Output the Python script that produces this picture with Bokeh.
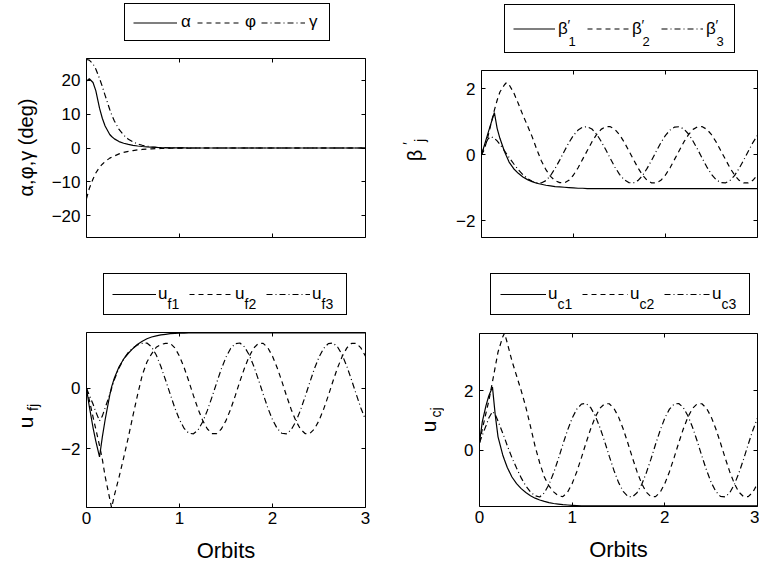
import math
from bokeh.plotting import figure
from bokeh.layouts import column, row
from bokeh.models import Label, Legend, LegendItem, LinearAxis, FixedTicker, Range1d
from bokeh.embed import file_html
from bokeh.resources import INLINE

# ---------------- data ----------------
t = [0, 0.03, 0.07, 0.1, 0.14, 0.17, 0.2, 0.25, 0.27, 0.3,
     0.35, 0.4, 0.45, 0.5, 0.55, 0.6, 0.65, 0.7, 0.75, 0.8, 0.85,
     0.9, 0.95, 1.0, 1.05, 1.1, 1.15, 1.2, 1.25, 1.3, 1.35, 1.4, 1.45, 1.5, 1.55, 1.6, 1.65, 1.7, 1.75, 1.8, 1.85,
     1.9, 1.95, 2.0, 2.05, 2.1, 2.15, 2.2, 2.25, 2.3, 2.35, 2.4, 2.45, 2.5, 2.55, 2.6, 2.65, 2.7, 2.75, 2.8, 2.85,
     2.9, 2.95, 3.0]

alpha = [19.8, 20.5, 19.4, 17.0, 11.8, 8.8, 6.5, 4.0, 3.4, 2.7,
         1.9, 1.4, 1.05, 0.8, 0.6, 0.45, 0.33, 0.24, 0.17, 0.12, 0.08,
         0.05, 0.03, 0.02, 0.01, 0, 0, 0, 0, 0, 0, 0, 0, 0, 0, 0, 0, 0, 0, 0, 0,
         0, 0, 0, 0, 0, 0, 0, 0, 0, 0, 0, 0, 0, 0, 0, 0, 0, 0, 0, 0,
         0, 0, 0]
phi = [-15.0, -12.0, -9.2, -7.4, -5.7, -4.8, -4.0, -3.0, -2.7, -2.35,
       -1.75, -1.3, -1.0, -0.75, -0.57, -0.43, -0.33, -0.25, -0.19, -0.14, -0.1,
       -0.07, -0.05, -0.04, -0.03, -0.02, -0.01, 0, 0, 0, 0, 0, 0, 0, 0, 0, 0, 0, 0, 0, 0,
       0, 0, 0, 0, 0, 0, 0, 0, 0, 0, 0, 0, 0, 0, 0, 0, 0, 0, 0, 0,
       0, 0, 0]
gamma = [26.2, 26.0, 24.9, 23.4, 20.6, 18.2, 15.6, 11.4, 9.9, 8.0,
         5.5, 3.8, 2.6, 1.8, 1.2, 0.8, 0.52, 0.34, 0.22, 0.14, 0.09,
         0.06, 0.04, 0.02, 0.01, 0, 0, 0, 0, 0, 0, 0, 0, 0, 0, 0, 0, 0, 0, 0, 0,
         0, 0, 0, 0, 0, 0, 0, 0, 0, 0, 0, 0, 0, 0, 0, 0, 0, 0, 0, 0,
         0, 0, 0]

beta1 = [0, 0.28, 0.65, 0.92, 1.28, 0.8, 0.5, 0.1, -0.03, -0.22,
         -0.42, -0.56, -0.67, -0.75, -0.81, -0.86, -0.89, -0.92, -0.94, -0.96, -0.97,
         -0.98, -0.99, -1.0, -1.01, -1.01, -1.02, -1.02, -1.02, -1.02, -1.02, -1.02, -1.02, -1.02, -1.02, -1.02,
         -1.02, -1.02, -1.02, -1.02, -1.02,
         -1.02, -1.02, -1.02, -1.02, -1.02, -1.02, -1.02, -1.02, -1.02, -1.02, -1.02, -1.02, -1.02, -1.02,
         -1.02, -1.02, -1.02, -1.02, -1.02, -1.02,
         -1.02, -1.02, -1.02]
beta2 = [0, 0.15, 0.55, 0.9, 1.35, 1.65, 1.9, 2.12, 2.18, 2.12,
         1.88, 1.55, 1.2, 0.88, 0.55, 0.17, -0.18, -0.45, -0.65, -0.78, -0.84,
         -0.85, -0.77, -0.61, -0.39, -0.13, 0.13, 0.39, 0.61, 0.77, 0.85, 0.85, 0.77, 0.61, 0.39, 0.13,
         -0.13, -0.39, -0.61, -0.77, -0.85,
         -0.85, -0.77, -0.61, -0.39, -0.13, 0.13, 0.39, 0.61, 0.77, 0.85, 0.85, 0.77, 0.61, 0.39, 0.13,
         -0.13, -0.39, -0.61, -0.77, -0.85,
         -0.85, -0.77, -0.61]
beta3 = [0, 0.25, 0.48, 0.55, 0.5, 0.42, 0.32, 0.12, 0.04, -0.08,
         -0.27, -0.45, -0.6, -0.72, -0.8, -0.84, -0.85, -0.78, -0.63, -0.41, -0.16,
         0.11, 0.37, 0.59, 0.75, 0.84, 0.85, 0.78, 0.63, 0.41, 0.16, -0.11, -0.37, -0.59, -0.75, -0.84,
         -0.85, -0.78, -0.63, -0.41, -0.16,
         0.11, 0.37, 0.59, 0.75, 0.84, 0.85, 0.78, 0.63, 0.41, 0.16, -0.11, -0.37, -0.59, -0.75, -0.84,
         -0.85, -0.78, -0.63, -0.41, -0.16,
         0.11, 0.37, 0.59]

uf1 = [0, -0.6, -1.3, -1.75, -2.28, -1.62, -1.05, -0.22, 0.05, 0.35,
       0.72, 0.98, 1.17, 1.33, 1.47, 1.57, 1.65, 1.71, 1.75, 1.78, 1.8,
       1.82, 1.83, 1.84, 1.84, 1.85, 1.85, 1.85, 1.85, 1.85, 1.85, 1.85, 1.85, 1.85, 1.85, 1.85,
       1.85, 1.85, 1.85, 1.85, 1.85,
       1.85, 1.85, 1.85, 1.85, 1.85, 1.85, 1.85, 1.85, 1.85, 1.85, 1.85, 1.85, 1.85, 1.85, 1.85,
       1.85, 1.85, 1.85, 1.85, 1.85,
       1.85, 1.85, 1.85]
uf2 = [0, -0.38, -0.95, -1.35, -1.9, -2.35, -2.92, -3.67, -3.97, -3.55,
       -2.95, -2.3, -1.62, -0.9, -0.2, 0.45, 0.88, 1.15, 1.37, 1.46, 1.5,
       1.5, 1.35, 1.07, 0.69, 0.24, -0.24, -0.69, -1.07, -1.35, -1.5, -1.5, -1.35, -1.07, -0.69, -0.24,
       0.24, 0.69, 1.07, 1.35, 1.5,
       1.5, 1.35, 1.07, 0.69, 0.24, -0.24, -0.69, -1.07, -1.35, -1.5, -1.5, -1.35, -1.07, -0.69, -0.24,
       0.24, 0.69, 1.07, 1.35, 1.5,
       1.5, 1.35, 1.07]
uf3 = [0, -0.22, -0.52, -0.78, -1.08, -0.92, -0.65, -0.2, 0.0, 0.3,
       0.68, 0.98, 1.2, 1.35, 1.45, 1.5, 1.51, 1.38, 1.11, 0.73, 0.28,
       -0.19, -0.65, -1.04, -1.33, -1.49, -1.51, -1.38, -1.11, -0.73, -0.28, 0.19, 0.65, 1.04, 1.33, 1.49,
       1.51, 1.38, 1.11, 0.73, 0.28,
       -0.19, -0.65, -1.04, -1.33, -1.49, -1.51, -1.38, -1.11, -0.73, -0.28, 0.19, 0.65, 1.04, 1.33, 1.49,
       1.51, 1.38, 1.11, 0.73, 0.28,
       -0.19, -0.65, -1.04]

uc1 = [0.25, 0.95, 1.5, 1.82, 2.12, 1.18, 0.45, -0.15, -0.33, -0.58,
       -0.9, -1.12, -1.29, -1.42, -1.53, -1.61, -1.67, -1.72, -1.76, -1.79, -1.81,
       -1.83, -1.84, -1.85, -1.86, -1.87, -1.87, -1.87, -1.87, -1.87, -1.87, -1.87, -1.87, -1.87, -1.87, -1.87,
       -1.87, -1.87, -1.87, -1.87, -1.87,
       -1.87, -1.87, -1.87, -1.87, -1.87, -1.87, -1.87, -1.87, -1.87, -1.87, -1.87, -1.87, -1.87, -1.87, -1.87,
       -1.87, -1.87, -1.87, -1.87, -1.87,
       -1.87, -1.87, -1.87]
uc2 = [0.25, 0.7, 1.25, 1.65, 2.3, 2.8, 3.3, 3.8, 3.93, 3.6,
       3.0, 2.5, 2.0, 1.45, 0.8, 0.13, -0.43, -0.9, -1.2, -1.4, -1.53,
       -1.56, -1.41, -1.12, -0.72, -0.25, 0.25, 0.72, 1.12, 1.41, 1.56, 1.56, 1.41, 1.12, 0.72, 0.25,
       -0.25, -0.72, -1.12, -1.41, -1.56,
       -1.56, -1.41, -1.12, -0.72, -0.25, 0.25, 0.72, 1.12, 1.41, 1.56, 1.56, 1.41, 1.12, 0.72, 0.25,
       -0.25, -0.72, -1.12, -1.41, -1.56,
       -1.56, -1.41, -1.12]
uc3 = [0.25, 0.5, 0.82, 1.08, 1.3, 1.2, 0.98, 0.58, 0.42, 0.15,
       -0.25, -0.6, -0.93, -1.2, -1.4, -1.53, -1.57, -1.43, -1.15, -0.76, -0.3,
       0.2, 0.67, 1.08, 1.38, 1.55, 1.57, 1.43, 1.15, 0.76, 0.3, -0.2, -0.67, -1.08, -1.38, -1.55,
       -1.57, -1.43, -1.15, -0.76, -0.3,
       0.2, 0.67, 1.08, 1.38, 1.55, 1.57, 1.43, 1.15, 0.76, 0.3, -0.2, -0.67, -1.08, -1.38, -1.55,
       -1.57, -1.43, -1.15, -0.76, -0.3,
       0.2, 0.67, 1.08]

x_ticks = [0, 1, 2, 3]
tl_yticks = [-20, -10, 0, 10, 20]
tr_yticks = [-2, 0, 2]
bl_yticks = [-2, 0]
br_yticks = [0, 2]

# ---------------- style ----------------
FONT = "Liberation Sans"
TICK_FS = "17px"
LAB_FS = "22px"
LEG_FS = "17px"
DASH = "5 4"
DASHDOT = "6 3 1 3"
LW = 1.2


def minus(ticks):
    return {v: ("\u2212" + str(abs(v))) for v in ticks if v < 0}


def style_axis(ax, ticks, labels=True):
    ax.ticker = FixedTicker(ticks=ticks, minor_ticks=[])
    ax.major_tick_in = 4
    ax.major_tick_out = 0
    ax.minor_tick_line_color = None
    ax.major_tick_line_color = "black"
    ax.axis_line_color = None
    ax.major_label_text_font = FONT
    ax.major_label_text_color = "black"
    if labels:
        ax.major_label_text_font_size = TICK_FS
        ax.major_label_overrides = minus(ticks)
    else:
        ax.major_label_text_font_size = "0px"
        ax.major_label_overrides = {v: "" for v in ticks}
        ax.major_label_standoff = 0


def panel(w, h, bl, br, bt, bb, ylim, yticks, xlabels):
    p = figure(width=w, height=h, output_backend="svg", toolbar_location=None, tools="",
               x_range=Range1d(0, 3), y_range=Range1d(ylim[0], ylim[1]),
               min_border_left=bl, min_border_right=br, min_border_top=bt, min_border_bottom=bb)
    p.grid.visible = False
    p.outline_line_color = "black"
    p.outline_line_width = 1
    p.outline_line_alpha = 1
    bx = p.xaxis[0]
    ly = p.yaxis[0]
    style_axis(bx, x_ticks, labels=xlabels)
    bx.major_label_standoff = 4 if xlabels else 0
    style_axis(ly, yticks)
    ly.major_label_standoff = 6
    if xlabels:
        bx.axis_label = "Orbits"
        bx.axis_label_text_font = FONT
        bx.axis_label_text_font_size = LAB_FS
        bx.axis_label_text_font_style = "normal"
        bx.axis_label_text_color = "black"
        bx.axis_label_standoff = 11
    ra = LinearAxis()
    style_axis(ra, yticks, labels=False)
    p.add_layout(ra, "right")
    ta = LinearAxis()
    style_axis(ta, x_ticks, labels=False)
    p.add_layout(ta, "above")
    return p


def blank(w, h, xr=(0, 1)):
    f = figure(width=w, height=h, output_backend="svg", toolbar_location=None, tools="",
               x_range=Range1d(xr[0], xr[1]), y_range=Range1d(0, 1),
               x_axis_type=None, y_axis_type=None,
               min_border_left=0, min_border_right=0, min_border_top=0, min_border_bottom=0)
    f.grid.visible = False
    f.outline_line_color = None
    return f


def add_lines(p, ys):
    r1 = p.line(t, ys[0], line_color="black", line_width=LW)
    r2 = p.line(t, ys[1], line_color="black", line_width=LW, line_dash=DASH)
    r3 = p.line(t, ys[2], line_color="black", line_width=LW, line_dash=DASHDOT)
    return [r1, r2, r3]


def legend_fig(w, h, ys, labels, loc, pad, gw, gh, ls, lw, sp):
    # legend keys: the same series, drawn outside this strip's visible x-range
    f = blank(w, h, xr=(10, 11))
    keys = add_lines(f, ys)
    items = [LegendItem(label=lab, renderers=[r]) for lab, r in zip(labels, keys)]
    leg = Legend(items=items, orientation="horizontal", location=loc,
                 padding=pad, spacing=sp, glyph_width=gw, glyph_height=gh,
                 label_standoff=ls, label_width=lw, label_height=gh, margin=0,
                 label_text_font=FONT, label_text_font_size=LEG_FS, label_text_color="black",
                 border_line_color="black", border_line_width=1, border_line_alpha=1,
                 background_fill_alpha=0)
    f.add_layout(leg)
    return f


def txt(p, x, y, s, fs, angle=0.0, align="left"):
    p.add_layout(Label(x=x, y=y, x_units="screen", y_units="screen", text=s, angle=angle,
                       text_font=FONT, text_font_size=fs, text_color="black",
                       text_align=align, text_baseline="middle"))


# ---------------- top-left ----------------
leg1 = legend_fig(400, 50, [alpha, phi, gamma], ["\u03b1", "\u03c6", "\u03b3"], (124, 9), 8, 44, 19, 4, 12, 4)
yl1 = blank(45, 220)
txt(yl1, 25, 90, "\u03b1,\u03c6,\u03b3 (deg)", "20px", math.pi / 2, "center")
p1 = panel(355, 220, 41, 35, 8, 33, (-26.5, 26.5), tl_yticks, False)
add_lines(p1, [alpha, phi, gamma])

# ---------------- top-right ----------------
leg2 = legend_fig(359, 62, [beta1, beta2, beta3], ["\u03b2", "\u03b2", "\u03b2"], (104, 9), 8, 42, 31, 3, 20, 9)
for lx, sub in ((157, "1"), (231, "2"), (305, "3")):
    txt(leg2, lx + 10, 38, "\u2032", "14px")
    txt(leg2, lx + 11, 21, sub, "13px")
yl2 = blank(44, 208)
txt(yl2, 14, 82, "\u03b2", "20px", math.pi / 2, "center")
txt(yl2, 7, 94, "\u2032", "14px", math.pi / 2, "center")
txt(yl2, 19, 97, "j", "14px", math.pi / 2, "center")
p2 = panel(315, 208, 37, 2, 8, 33, (-2.5, 2.55), tr_yticks, False)
add_lines(p2, [beta1, beta2, beta3])

# ---------------- bottom-left ----------------
leg3 = legend_fig(400, 54, [uf1, uf2, uf3], ["u", "u", "u"], (103, 9), 8, 44, 24, 2, 26, 5)
for lx, sub in ((157, "f1"), (234, "f2"), (311, "f3")):
    txt(leg3, lx + 10, 21, sub, "14px")
yl3 = blank(45, 241)
txt(yl3, 25, 85, "u", "21px", math.pi / 2, "center")
txt(yl3, 32, 100, "fj", "14px", math.pi / 2, "center")
p3 = panel(355, 241, 41, 35, 8, 58, (-3.96, 1.86), bl_yticks, True)
add_lines(p3, [uf1, uf2, uf3])

# ---------------- bottom-right ----------------
leg4 = legend_fig(359, 54, [uc1, uc2, uc3], ["u", "u", "u"], (90, 9), 9, 46, 22, 2, 28, 6)
for lx, sub in ((147, "c1"), (229, "c2"), (311, "c3")):
    txt(leg4, lx + 10, 21, sub, "14px")
yl4 = blank(44, 241)
txt(yl4, 28, 80, "u", "21px", math.pi / 2, "center")
txt(yl4, 35, 94, "cj", "14px", math.pi / 2, "center")
p4 = panel(315, 241, 35, 2, 9, 59, (-1.89, 3.92), br_yticks, True)
add_lines(p4, [uc1, uc2, uc3])

top = row(column(leg1, row(yl1, p1)), column(leg2, row(yl2, p2)))
bottom = row(column(leg3, row(yl3, p3)), column(leg4, row(yl4, p4)))
layout = column(top, bottom)
open("out.html", "w").write(file_html(layout, INLINE))
